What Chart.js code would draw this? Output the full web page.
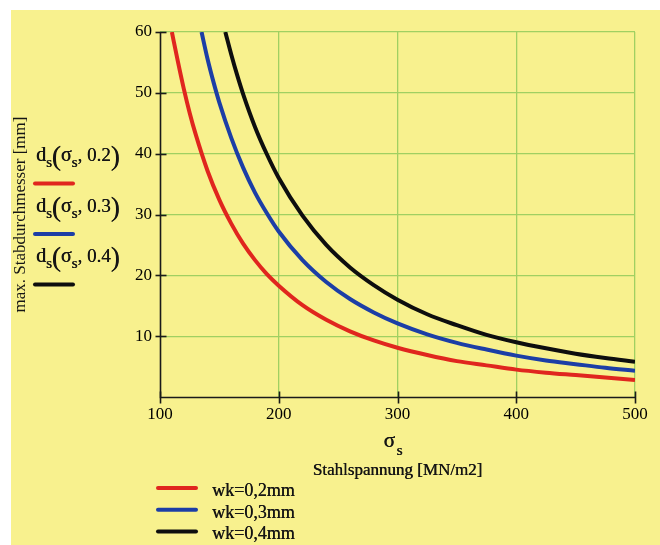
<!DOCTYPE html>
<html>
<head>
<meta charset="utf-8">
<script src="https://cdn.jsdelivr.net/npm/chart.js@4.4.0/dist/chart.umd.min.js"></script>
<style>
  html, body { margin: 0; padding: 0; background: #fff; }
  #wrap { width: 660px; height: 545px; }
</style>
</head>
<body>
<div id="wrap"><canvas id="chart" width="660" height="545"></canvas></div>
<script>
// ---- Daten ----
const crackWidths = ['0.2', '0.3', '0.4'];
const legendLabels = ['wk=0,2mm', 'wk=0,3mm', 'wk=0,4mm'];
const lineColors = ['#e0261e', '#1c3ea6', '#0e0e0e'];

// Stahlspannung sigma_s [MN/m2] und max. Stabdurchmesser d_s [mm]
const sigma02 = [110, 115, 120, 125, 130, 140, 150, 160, 170, 180, 190, 200, 220, 240, 260, 280, 300, 325, 350, 375, 400, 425, 450, 475, 500];
const ds02    = [60, 55.2, 50.7, 46.7, 43.2, 37.2, 32.4, 28.5, 25.2, 22.5, 20.2, 18.3, 15.1, 12.7, 10.8, 9.3, 8.1, 6.9, 5.9, 5.2, 4.5, 4.0, 3.6, 3.2, 2.8];

const sigma03 = [135, 140, 145, 150, 160, 170, 180, 190, 200, 220, 240, 260, 280, 300, 325, 350, 375, 400, 425, 450, 475, 500];
const ds03    = [60, 55.6, 51.8, 48.4, 42.6, 37.7, 33.6, 30.2, 27.2, 22.5, 18.9, 16.1, 13.9, 12.1, 10.3, 8.9, 7.8, 6.8, 6.0, 5.4, 4.8, 4.3];

const sigma04 = [155, 160, 165, 170, 180, 190, 200, 220, 240, 260, 280, 300, 325, 350, 375, 400, 425, 450, 475, 500];
const ds04    = [60, 56.3, 52.9, 49.8, 44.4, 39.9, 36, 29.8, 25, 21.3, 18.4, 16, 13.6, 11.8, 10.2, 9.0, 8.0, 7.1, 6.4, 5.8];

const curves = [[sigma02, ds02], [sigma03, ds03], [sigma04, ds04]];

const SERIF = '"Liberation Serif", "DejaVu Serif", serif';
const TEXT = '#151515';
const GRID = '#a0d062';

// Hintergrund, Achsen, Beschriftungen im Mathcad-Stil
const decor = {
    id: 'decor',
    beforeDraw(chart) {
        const ctx = chart.ctx;
        ctx.save();
        ctx.fillStyle = '#ffffff';
        ctx.fillRect(0, 0, chart.width, chart.height);
        ctx.fillStyle = '#f8f18e';
        ctx.fillRect(11, 10, chart.width - 11, chart.height - 10);
        ctx.restore();
    },
    afterDraw(chart) {
        const ctx = chart.ctx;
        const { x, y } = chart.scales;
        const area = chart.chartArea;
        ctx.save();

        // Achsenlinien und Striche über die Achsen hinweg
        ctx.strokeStyle = '#1a1a1a';
        ctx.lineWidth = 1.6;
        const left = Math.round(x.getPixelForValue(100)) + 0.5;
        const bottom = Math.round(y.getPixelForValue(0)) + 0.5;
        ctx.beginPath();
        ctx.moveTo(left, y.getPixelForValue(60));
        ctx.lineTo(left, bottom);
        ctx.lineTo(x.getPixelForValue(500), bottom);
        ctx.stroke();
        y.ticks.forEach(t => {
            if (t.value === 0) return;
            const py = Math.round(y.getPixelForValue(t.value)) + 0.5;
            ctx.beginPath(); ctx.moveTo(left - 5, py); ctx.lineTo(left + 6, py); ctx.stroke();
        });
        x.ticks.forEach(t => {
            const px = Math.round(x.getPixelForValue(t.value)) + 0.5;
            ctx.beginPath(); ctx.moveTo(px, bottom - 6); ctx.lineTo(px, bottom + 6); ctx.stroke();
        });

        ctx.fillStyle = TEXT;
        ctx.textBaseline = 'alphabetic';
        // etwas kräftiger schreiben, wie im Scan
        const write = (txt, px, py) => {
            ctx.fillText(txt, px, py);
            ctx.fillText(txt, px + 0.4, py);
        };

        // sigma_s und Achsentitel
        const cx = (area.left + area.right) / 2;
        ctx.font = '21px ' + SERIF;
        ctx.textAlign = 'left';
        write('σ', cx - 14, 447);
        ctx.font = '15px ' + SERIF;
        write('s', cx - 1, 455);
        ctx.font = '17px ' + SERIF;
        ctx.textAlign = 'center';
        write('Stahlspannung [MN/m2]', cx, 475);

        // Legende links: d_s(sigma_s, w)
        crackWidths.forEach((w, i) => {
            const base = 161 + i * 50.5;
            let px = 36;
            const put = (txt, size, dy) => {
                ctx.font = size + 'px ' + SERIF;
                ctx.textAlign = 'left';
                ctx.fillStyle = TEXT;
                write(txt, px, base + dy);
                px += ctx.measureText(txt).width;
            };
            put('d', 20, 0);
            put('s', 15, 6);
            put('(', 27, 4);
            put('σ', 20, 0);
            put('s', 15, 6);
            put(', ' + w, 19, 0);
            put(')', 27, 4);

            ctx.strokeStyle = lineColors[i];
            ctx.lineWidth = 4;
            ctx.lineCap = 'round';
            ctx.beginPath(); ctx.moveTo(35, base + 22.5); ctx.lineTo(73, base + 22.5); ctx.stroke();
        });

        // Legende unten
        legendLabels.forEach((lbl, i) => {
            const ly = 488 + i * 21.7;
            ctx.strokeStyle = lineColors[i];
            ctx.lineWidth = 4;
            ctx.lineCap = 'round';
            ctx.beginPath(); ctx.moveTo(158, ly); ctx.lineTo(196, ly); ctx.stroke();
            ctx.font = '18px ' + SERIF;
            ctx.textAlign = 'left';
            ctx.fillStyle = TEXT;
            write(lbl, 212, ly + 8);
        });

        ctx.restore();
    }
};

const datasets = curves.map(([xs, ys], i) => ({
    label: legendLabels[i],
    data: xs.map((s, k) => ({ x: s, y: ys[k] })),
    borderColor: lineColors[i],
    borderWidth: 4,
    pointRadius: 0,
    fill: false,
    cubicInterpolationMode: 'monotone'
}));

const tickFont = { family: SERIF, size: 17 };

new Chart(document.getElementById('chart'), {
    type: 'line',
    data: { datasets },
    plugins: [decor],
    options: {
        responsive: false,
        animation: false,
        devicePixelRatio: 1,
        layout: { padding: { top: 32, right: 25, left: 0, bottom: 0 } },
        plugins: { legend: { display: false }, tooltip: { enabled: false } },
        scales: {
            x: {
                type: 'linear',
                min: 100, max: 500,
                afterFit: s => { s.height = 148; },
                ticks: { stepSize: 100, color: '#000', padding: 7, font: tickFont },
                grid: {
                    color: c => c.tick.value === 100 ? 'rgba(0,0,0,0)' : GRID,
                    lineWidth: 1.3,
                    drawTicks: false
                },
                border: { display: false }
            },
            y: {
                min: 0, max: 60,
                afterFit: s => { s.width = 160; },
                ticks: {
                    stepSize: 10, color: '#000', padding: 8, font: tickFont,
                    callback: v => v === 0 ? '' : v
                },
                grid: {
                    color: c => c.tick.value === 0 ? 'rgba(0,0,0,0)' : GRID,
                    lineWidth: 1.3,
                    drawTicks: false
                },
                border: { display: false },
                title: {
                    display: true,
                    text: 'max. Stabdurchmesser [mm]',
                    color: TEXT,
                    font: { family: SERIF, size: 17 },
                    padding: { top: 10, bottom: 0 }
                }
            }
        }
    }
});
</script>
</body>
</html>
